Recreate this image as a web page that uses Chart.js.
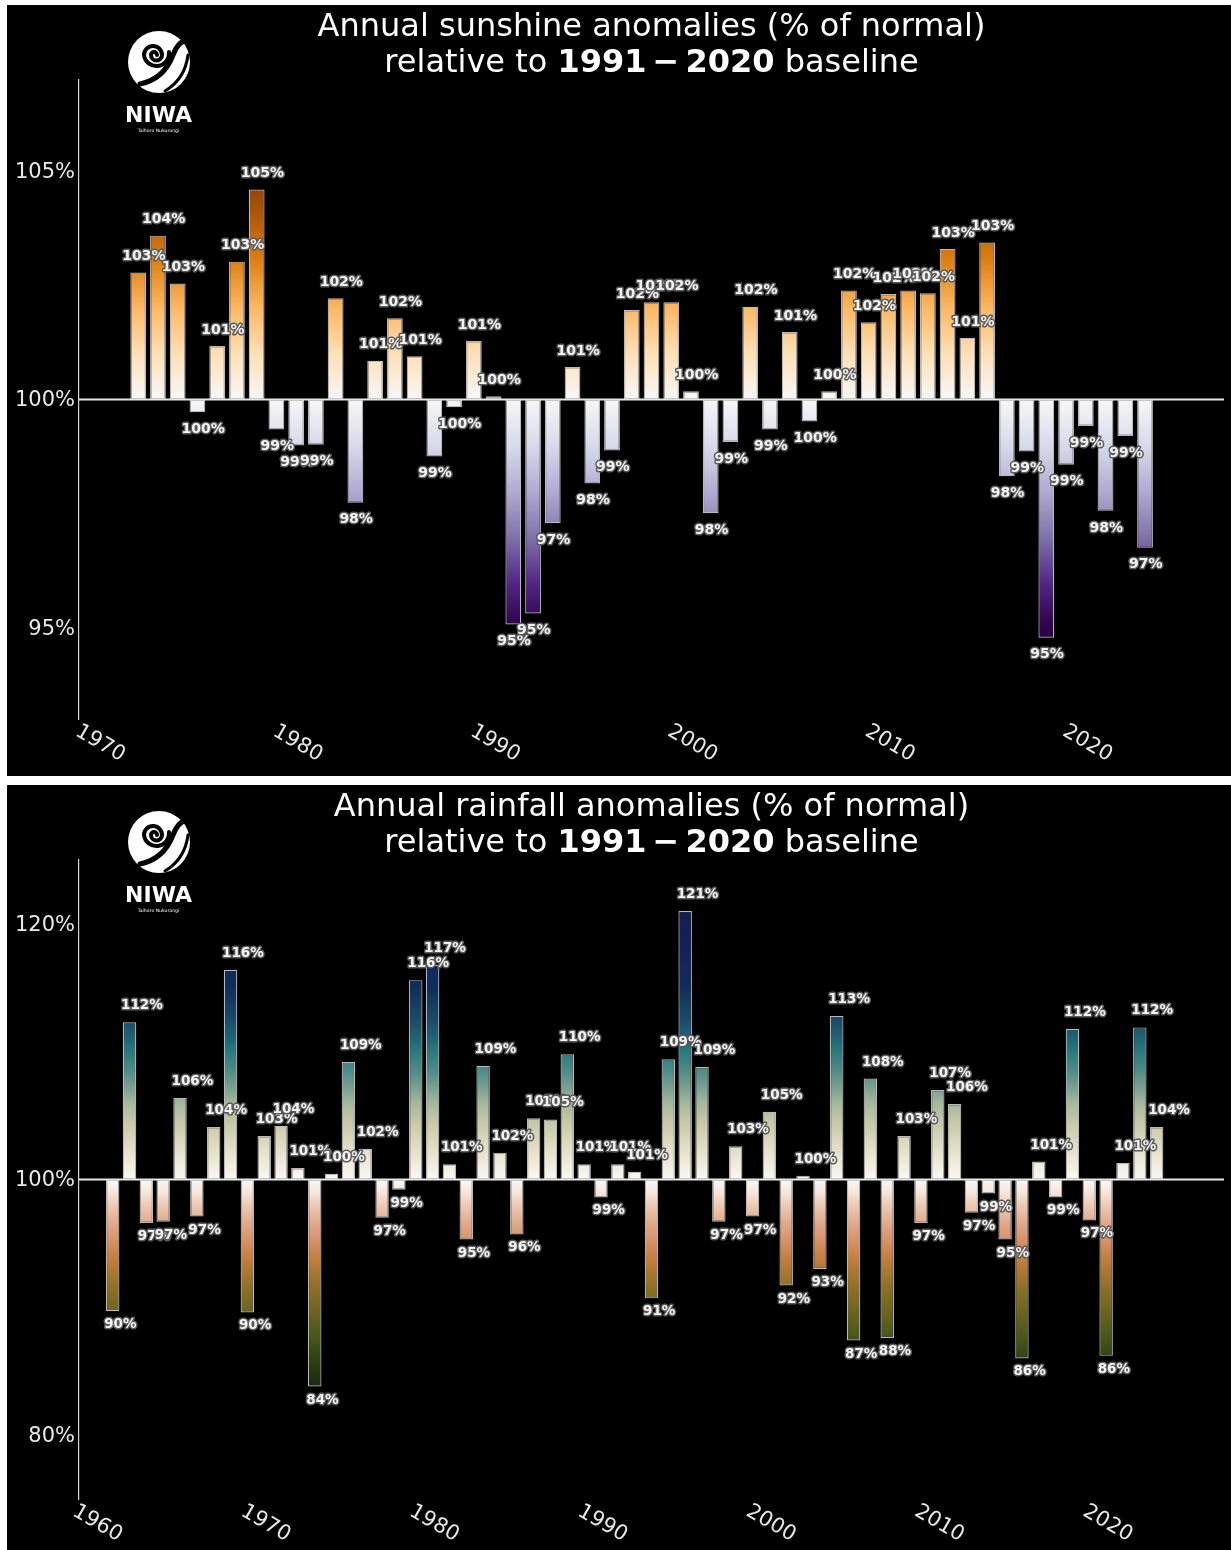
<!DOCTYPE html>
<html>
<head>
<meta charset="utf-8">
<script src="https://cdn.jsdelivr.net/npm/chart.js@4.4.1/dist/chart.umd.min.js"></script>
<style>
  html, body { margin: 0; padding: 0; background: #fff; }
  body { width: 1231px; height: 1550px; overflow: hidden; position: relative; font-family: 'DejaVu Sans', sans-serif; }
  .panel { position: absolute; left: 7px; width: 1224px; height: 771px; background: #000; overflow: hidden; }
  .panel canvas { position: absolute; left: 0; top: 0; }
  .title { position: absolute; left: 72px; width: 1145px; text-align: center; color: #fff; font-size: 32px; line-height: 36px; white-space: nowrap; font-family: 'DejaVu Sans', sans-serif; }
  .title b { font-weight: bold; }
  .title .op { margin: 0 6px; }
  .logo { position: absolute; left: 0; top: 0; }
</style>
</head>
<body>
<div class="panel" id="p1" style="top:5px;">
  <canvas id="c1" width="1224" height="771"></canvas>
</div>
<div class="panel" id="p2" style="top:785px;">
  <canvas id="c2" width="1224" height="771"></canvas>
</div>
<script>
// ---------------- DATA ----------------
const sunYears = [1972,1973,1974,1975,1976,1977,1978,1979,1980,1981,1982,1983,1984,1985,1986,1987,1988,1989,1990,1991,1992,1993,1994,1995,1996,1997,1998,1999,2000,2001,2002,2003,2004,2005,2006,2007,2008,2009,2010,2011,2012,2013,2014,2015,2016,2017,2018,2019,2020,2021,2022,2023];
const sunValues = [102.78,103.59,102.54,99.72,101.17,103.02,104.6,99.34,98.99,99.01,102.22,97.74,100.85,101.78,100.95,98.75,99.83,101.28,100.07,95.07,95.31,97.29,100.71,98.16,98.88,101.96,102.13,102.13,100.18,97.51,99.07,102.03,99.34,101.48,99.52,100.18,102.39,101.69,102.31,102.39,102.33,103.3,101.35,103.44,98.32,98.86,94.78,98.57,99.42,97.56,99.2,96.75];
const sunYTicks = [95, 100, 105];
const sunXTicks = [1970, 1980, 1990, 2000, 2010, 2020];

const rainYears = [1961,1962,1963,1964,1965,1966,1967,1968,1969,1970,1971,1972,1973,1974,1975,1976,1977,1978,1979,1980,1981,1982,1983,1984,1985,1986,1987,1988,1989,1990,1991,1992,1993,1994,1995,1996,1997,1998,1999,2000,2001,2002,2003,2004,2005,2006,2007,2008,2009,2010,2011,2012,2013,2014,2015,2016,2017,2018,2019,2020,2021,2022,2023];
const rainValues = [89.7,112.3,96.6,96.7,106.4,97.1,104.1,116.4,89.6,103.4,104.2,100.9,83.8,100.45,109.2,102.4,97.0,99.2,115.6,116.8,101.2,95.3,108.9,102.1,95.7,104.8,104.7,109.8,101.2,98.6,101.2,100.6,90.7,109.4,121.0,108.8,96.7,102.6,97.1,105.3,91.7,100.3,93.0,112.8,87.4,107.9,87.6,103.4,96.6,107.0,105.9,97.4,98.9,95.3,86.0,101.4,98.6,111.8,96.8,86.2,101.3,111.9,104.1];
const rainYTicks = [80, 100, 120];
const rainXTicks = [1960, 1970, 1980, 1990, 2000, 2010, 2020];

// ---------------- STYLE (colour maps) ----------------
const puorStops = [[105,'#7f3b08'],[104,'#b35806'],[103,'#e08214'],[102,'#fdb863'],[101,'#fee0b6'],[100,'#f7f7f7'],[99,'#d8daeb'],[98,'#b2abd2'],[97,'#8073ac'],[96,'#542788'],[95,'#2d004b']];
const tarnStops = [[121,'#141e4e'],[118,'#13215a'],[115,'#102e5c'],[112.5,'#1a4c68'],[111,'#1e6676'],[110,'#2a7a7e'],[108.5,'#4e8c88'],[107,'#80a494'],[106,'#a4b89c'],[104.5,'#c6c8a6'],[103,'#dcd8bc'],[101.5,'#eee8d8'],[100,'#fbf8f4'],[99,'#f6e6dc'],[98,'#eecab4'],[96.5,'#e0a888'],[95,'#d68e60'],[94,'#c8803e'],[93,'#b07a30'],[91.5,'#8c7024'],[90,'#746620'],[88,'#4d5a18'],[86,'#2c4512'],[84,'#1b2a10']];

function makeGradient(chart, stops) {
  const y = chart.scales.y;
  const vTop = stops[0][0], vBot = stops[stops.length - 1][0];
  const g = chart.ctx.createLinearGradient(0, y.getPixelForValue(vTop), 0, y.getPixelForValue(vBot));
  stops.forEach(([v, c]) => g.addColorStop((vTop - v) / (vTop - vBot), c));
  return g;
}

const decorPlugin = {
  id: 'decor',
  afterDatasetsDraw(chart, args, opts) {
    const { ctx, chartArea, scales: { x, y } } = chart;
    ctx.save();
    // baseline at 100%
    const y0 = y.getPixelForValue(100);
    ctx.strokeStyle = '#e6e6e6';
    ctx.lineWidth = 2;
    ctx.beginPath();
    ctx.moveTo(chartArea.left, y0);
    ctx.lineTo(chartArea.right, y0);
    ctx.stroke();
    // value labels
    const meta = chart.getDatasetMeta(0);
    const data = chart.data.datasets[0].data;
    ctx.font = 'bold ' + opts.labelSize + 'px "DejaVu Sans"';
    ctx.textAlign = 'left';
    ctx.textBaseline = 'middle';
    ctx.lineJoin = 'round';
    meta.data.forEach((el, i) => {
      const v = data[i].y;
      const txt = Math.round(v) + '%';
      const ty = v >= 100 ? el.y - opts.posOff : el.y + opts.negOff;
      const tx = el.x - opts.dx;
      ctx.strokeStyle = '#5a5a5a';
      ctx.lineWidth = 3;
      ctx.strokeText(txt, tx, ty);
      ctx.fillStyle = '#f4f4f4';
      ctx.fillText(txt, tx, ty);
    });
    // rotated x tick labels
    ctx.font = '21px "DejaVu Sans"';
    ctx.fillStyle = '#e8e8e8';
    ctx.textAlign = 'center';
    ctx.textBaseline = 'middle';
    x.ticks.forEach(t => {
      const px = x.getPixelForValue(t.value);
      ctx.save();
      ctx.translate(px + 1.5, opts.xLabelY);
      ctx.rotate(Math.PI / 6);
      ctx.fillText(String(t.value), 0, 0);
      ctx.restore();
    });
    ctx.restore();
  }
};

function buildChart(canvasId, years, values, yTicks, xTicks, xMin, xMax, yMin, yMax, stops, labelOpts) {
  const pts = years.map((yr, i) => ({ x: yr, y: values[i] }));
  return new Chart(document.getElementById(canvasId), {
    type: 'bar',
    data: {
      datasets: [{
        data: pts,
        base: 100,
        backgroundColor: (c) => c.chart.chartArea ? makeGradient(c.chart, stops) : '#ffffff',
        borderColor: 'rgba(205,205,205,0.9)',
        borderWidth: 1.2,
        borderSkipped: false,
        barPercentage: 0.8,
        categoryPercentage: 1.0
      }]
    },
    options: {
      responsive: false,
      animation: false,
      events: [],
      layout: { padding: { left: 0, top: 75, right: 7, bottom: 57 } },
      plugins: {
        legend: { display: false },
        tooltip: { enabled: false },
        title: { display: false },
        decor: labelOpts
      },
      scales: {
        x: {
          type: 'linear',
          min: xMin, max: xMax,
          offset: false,
          grid: { display: false, drawTicks: false },
          border: { display: false },
          ticks: { display: false },
          afterBuildTicks: (s) => { s.ticks = xTicks.map(v => ({ value: v })); },
          afterFit: (s) => { s.height = 0; }
        },
        y: {
          min: yMin, max: yMax,
          grid: { display: false, drawTicks: false },
          border: { display: true, color: '#d4d4d4', width: 1.2 },
          ticks: {
            color: '#e8e8e8',
            padding: 4,
            labelOffset: 1.5,
            font: { family: 'DejaVu Sans', size: 21 },
            callback: (v) => v + '%'
          },
          afterBuildTicks: (s) => { s.ticks = yTicks.map(v => ({ value: v })); },
          afterFit: (s) => { s.width = 72; }
        }
      }
    },
    plugins: [decorPlugin]
  });
}

// ---------------- TITLES & LOGOS ----------------
function addDecor(panelId, line1) {
  const p = document.getElementById(panelId);
  const t1 = document.createElement('div');
  t1.className = 'title'; t1.style.top = '2px'; t1.textContent = line1;
  const t2 = document.createElement('div');
  t2.className = 'title'; t2.style.top = '38px';
  t2.innerHTML = 'relative to <b>1991<span class="op">\u2212</span>2020</b> baseline';
  p.appendChild(t1); p.appendChild(t2);
  const svgNS = 'http://www.w3.org/2000/svg';
  const svg = document.createElementNS(svgNS, 'svg');
  svg.setAttribute('class', 'logo');
  svg.setAttribute('width', '260'); svg.setAttribute('height', '140');
  svg.innerHTML =
    '<circle cx="152" cy="57" r="31" fill="#fff"/>' +
    '<path d="M150,50 A3,3 0 0,0 144,50 A5.5,5.5 0 0,0 155,50 A9,9 0 0,0 137,50 A12.5,12.5 0 0,0 162,47" fill="none" stroke="#000" stroke-width="4" stroke-linecap="round"/>' +
    '<path d="M133,79 Q157,74 166,50 Q171,36 183,33" fill="none" stroke="#000" stroke-width="5" stroke-linecap="round"/>' +
    '<path d="M158,86 Q178,74 181,50" fill="none" stroke="#000" stroke-width="3" stroke-linecap="round"/>' +
    '<path d="M147,24 Q160,22 170,30" fill="none" stroke="#000" stroke-width="3" stroke-linecap="round"/>' +
    '<text x="151.5" y="116.5" text-anchor="middle" fill="#fff" font-family="DejaVu Sans" font-weight="bold" font-size="22">NIWA</text>' +
    '<text x="151.5" y="127" text-anchor="middle" fill="#fff" font-family="DejaVu Sans" font-size="4.6">Taihoro Nukurangi</text>';
  p.appendChild(svg);
}

addDecor('p1', 'Annual sunshine anomalies (% of normal)');
addDecor('p2', 'Annual rainfall anomalies (% of normal)');

buildChart('c1', sunYears, sunValues, sunYTicks, sunXTicks, 1969, 2027, 93, 107, puorStops,
  { labelSize: 14, posOff: 16, negOff: 17, dx: 16, xLabelY: 738.5 });
buildChart('c2', rainYears, rainValues, rainYTicks, rainXTicks, 1959, 2027, 75, 125, tarnStops,
  { labelSize: 13.5, posOff: 16.5, negOff: 13.5, dx: 8.5, xLabelY: 738.5 });
</script>
</body>
</html>
